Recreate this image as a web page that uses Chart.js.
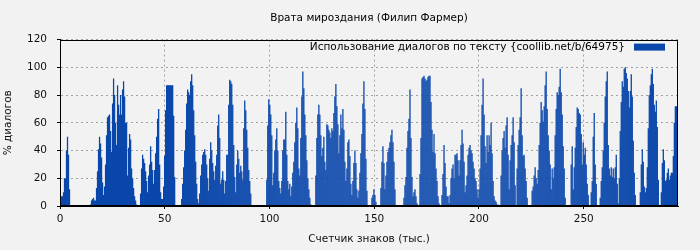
<!DOCTYPE html>
<html lang="ru">
<head>
<meta charset="UTF-8">
<title>Врата мироздания</title>
<script src="https://cdn.jsdelivr.net/npm/chart.js"></script>
<style>
  html, body { margin: 0; padding: 0; background: #f2f2f2; }
</style>
</head>
<body>
<canvas id="chart" width="700" height="250"></canvas>
<script>
// texts
const chartTitle = 'Врата мироздания (Филип Фармер)';
const seriesLabel = 'Использование диалогов по тексту {coollib.net/b/64975}';
const xTitle = 'Счетчик знаков (тыс.)';
const yTitle = '% диалогов';

// axes
const binSize = 0.478;   // тыс. знаков на один столбик
const xMax = 295;
const xTicks = [0, 50, 100, 150, 200, 250];
const yTicks = [0, 20, 40, 60, 80, 100, 120];

// % диалогов по кускам текста
const dialogPercent = [
  7,7,7,10,20,20,40,50,37,12, 0,0,0,0,0,0,0,0,0,0, 0,0,0,0,0,0,0,0,0,0,
  1,4,5,6,4,4,13,25,41,50, 45,35,17,8,14,30,51,64,65,66, 54,39,74,92,80,60,44,87,73,66,
  80,66,84,90,79,60,60,22,42,52, 48,27,20,13,7,4,1,0,0,0, 9,27,37,34,31,25,18,10,22,30,
  43,32,26,16,26,38,50,63,70,30, 10,5,5,14,36,69,87,87,87,87, 87,87,87,65,21,0,0,0,0,0,
  0,5,16,28,40,55,74,84,82,80, 90,95,87,69,51,32,16,5,2,9, 22,30,37,39,41,37,30,20,11,34,
  46,40,31,25,19,29,37,58,66,49, 16,19,25,19,9,18,37,37,73,91, 90,88,73,44,21,10,30,40,34,24,
  29,25,19,56,76,69,55,42,26,18, 9,0,0,0,0,0,0,0,0,0, 0,0,0,0,0,0,19,58,77,73,
  66,51,15,24,40,48,56,40,18,13, 9,18,40,48,48,68,37,18,12,16, 7,14,24,32,46,60,71,56,27,22,
  49,79,97,85,66,51,33,20,12,6, 1,0,0,0,0,22,49,66,73,66, 51,36,42,50,32,26,59,58,55,53,
  49,56,54,67,79,88,72,59,38,51, 66,56,70,55,32,18,27,46,48,36, 16,8,18,31,40,31,12,6,11,24,
  38,52,74,90,70,34,11,0,0,0, 0,6,8,12,8,3,0,0,0,0, 13,32,43,31,12,22,32,39,42,46,
  51,55,46,32,12,0,0,0,0,0, 0,0,0,6,15,21,42,54,63,84, 49,21,7,10,12,7,2,0,0,23,
  49,92,93,94,92,90,91,93,94,94, 75,55,39,52,38,27,18,7,2,0, 0,8,23,44,31,14,7,7,2,8,
  20,27,30,20,37,37,38,33,22,33, 44,55,45,32,10,15,22,37,42,44, 40,38,32,27,20,18,12,6,12,27,
  51,73,92,66,43,31,51,39,51,44, 60,38,18,7,4,3,1,1,0,0, 22,40,49,54,42,58,64,37,12,33,
  44,51,64,46,15,0,27,44,55,64, 85,51,36,37,27,18,6,0,0,0, 0,11,14,22,28,20,16,26,44,60,
  75,69,61,72,87,97,70,51,40,30, 12,27,20,28,51,70,82,80,86,99, 82,66,43,27,6,0,0,0,0,0,
  30,43,12,28,42,57,71,70,67,66, 52,30,46,37,42,30,16,8,0,0, 10,18,50,67,30,16,0,0,0,6,
  18,28,40,60,79,90,97,44,27,22, 28,21,27,20,28,37,16,2,20,54, 75,90,86,99,100,96,92,83,71,83,
  95,79,47,24,8,0,0,0,0,10, 30,41,32,14,10,13,28,56,80,87, 95,99,88,73,68,76,57,19,0,0,
  10,31,41,33,18,19,24,27,19,22, 24,24,36,60,72,72,51
];

// середина каждого куска, тыс. знаков
const charCount = dialogPercent.map((v, i) => (i + 0.5) * binSize);

Chart.defaults.font.family = 'DejaVu Sans';
Chart.defaults.font.size = 10.5;
Chart.defaults.color = '#111';

// black frame round the plot area + legend in its top right corner
const plotFrame = {
  id: 'plotFrame',
  afterDraw(chart) {
    const a = chart.chartArea;
    const ctx = chart.ctx;
    const ds = chart.data.datasets[0];
    ctx.save();

    // legend: text, then the colour box on the right
    const boxRight = a.right - 13, boxW = 31, boxH = 7;
    const midY = a.top + 7.5;
    ctx.fillStyle = ds.backgroundColor;
    ctx.fillRect(boxRight - boxW, midY - boxH / 2, boxW, boxH);
    ctx.fillStyle = '#000';
    ctx.font = '10.5px "DejaVu Sans"';
    ctx.textAlign = 'right';
    ctx.textBaseline = 'middle';
    ctx.fillText(ds.label, boxRight - boxW - 9, midY);

    ctx.strokeStyle = '#000';
    ctx.lineWidth = 1;
    const l = Math.round(a.left) + 0.5, t = Math.round(a.top) + 0.5;
    const r = Math.round(a.right) - 0.5, b = Math.round(a.bottom) - 0.5;
    ctx.strokeRect(l, t, r - l, b - t);
    ctx.restore();
  }
};

new Chart(document.getElementById('chart'), {
  type: 'bar',
  data: {
    datasets: [{
      label: seriesLabel,
      data: charCount.map((x, i) => ({ x: x, y: dialogPercent[i] })),
      backgroundColor: '#0a47ab',
      borderWidth: 0,
      barPercentage: 1.3,
      categoryPercentage: 1
    }]
  },
  options: {
    responsive: false,
    animation: false,
    layout: { padding: { left: 2, right: 22, top: 0, bottom: 0 } },
    plugins: {
      title: {
        display: true,
        text: chartTitle,
        fullSize: false,
        color: '#000',
        font: { size: 10.5, weight: 'normal' },
        padding: { top: 12, bottom: 15 }
      },
      legend: { display: false },
      tooltip: { enabled: false }
    },
    scales: {
      x: {
        type: 'linear',
        offset: false,
        min: 0,
        max: xMax,
        afterBuildTicks: s => { s.ticks = xTicks.map(v => ({ value: v })); },
        afterFit: s => { s.height = 44; },
        ticks: { padding: 4, color: '#111', maxRotation: 0 },
        grid: { offset: false, color: '#a0a0a0', tickColor: '#000', tickLength: 3 },
        border: { color: '#000', dash: [2, 3] },
        title: { display: true, text: xTitle, color: '#111', padding: { top: 2, bottom: 4 } }
      },
      y: {
        min: 0,
        max: 120,
        afterBuildTicks: s => { s.ticks = yTicks.map(v => ({ value: v })); },
        afterFit: s => { s.width = 58; },
        ticks: { padding: 10, color: '#111' },
        grid: { color: '#a0a0a0', tickColor: '#000', tickLength: 3 },
        border: { color: '#000', dash: [2, 3] },
        title: { display: true, text: yTitle, color: '#111', padding: { top: 0, bottom: 0 } }
      }
    }
  },
  plugins: [plotFrame]
});
</script>
</body>
</html>
